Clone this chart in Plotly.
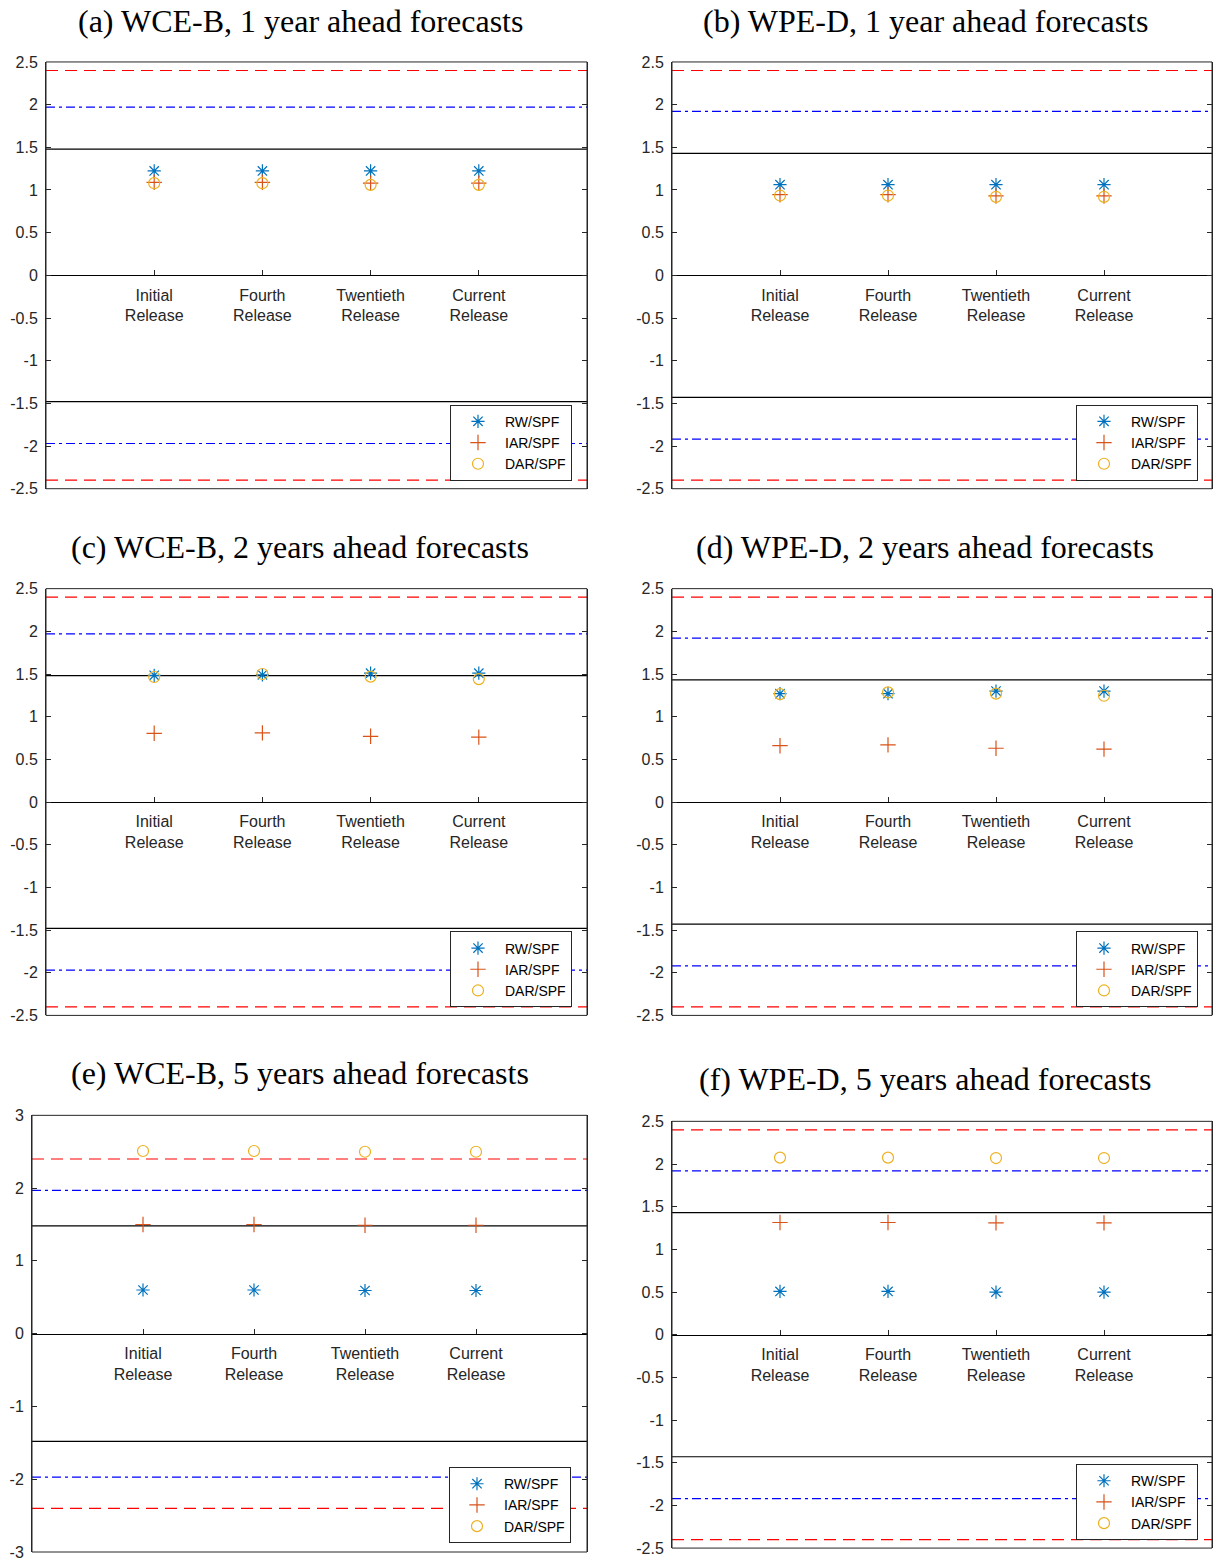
import plotly.graph_objects as go

W, H = 1213, 1561

# ---------------- data ----------------
categories = ["Initial<br>Release", "Fourth<br>Release", "Twentieth<br>Release", "Current<br>Release"]
cat_x = [1, 2, 3, 4]
series_names = ["RW/SPF", "IAR/SPF", "DAR/SPF"]

titles = [
    "(a) WCE-B, 1 year ahead forecasts",
    "(b) WPE-D, 1 year ahead forecasts",
    "(c) WCE-B, 2 years ahead forecasts",
    "(d) WPE-D, 2 years ahead forecasts",
    "(e) WCE-B, 5 years ahead forecasts",
    "(f) WPE-D, 5 years ahead forecasts",
]

a_rw = [1.223, 1.223, 1.223, 1.223]
a_iar = [1.09, 1.09, 1.08, 1.08]
a_dar = [1.08, 1.08, 1.06, 1.06]

b_rw = [1.062, 1.062, 1.062, 1.062]
b_iar = [0.945, 0.945, 0.93, 0.93]
b_dar = [0.935, 0.935, 0.92, 0.92]

c_rw = [1.485, 1.49, 1.51, 1.51]
c_iar = [0.805, 0.81, 0.77, 0.76]
c_dar = [1.465, 1.50, 1.47, 1.44]

d_rw = [1.27, 1.27, 1.30, 1.30]
d_iar = [0.66, 0.67, 0.63, 0.62]
d_dar = [1.265, 1.285, 1.27, 1.245]

e_rw = [0.60, 0.60, 0.593, 0.593]
e_iar = [1.50, 1.50, 1.49, 1.49]
e_dar = [2.51, 2.51, 2.50, 2.50]

f_rw = [0.507, 0.507, 0.50, 0.50]
f_iar = [1.315, 1.315, 1.31, 1.31]
f_dar = [2.075, 2.075, 2.07, 2.07]

# critical value lines (solid, dash-dot, dashed)
wce_crit = [1.48, 1.97, 2.40]
wpe_crit = [1.43, 1.92, 2.40]

yticks_25 = [-2.5, -2, -1.5, -1, -0.5, 0, 0.5, 1, 1.5, 2, 2.5]
yticklabels_25 = ["-2.5", "-2", "-1.5", "-1", "-0.5", "0", "0.5", "1", "1.5", "2", "2.5"]
yticks_3 = [-3, -2, -1, 0, 1, 2, 3]
yticklabels_3 = ["-3", "-2", "-1", "0", "1", "2", "3"]

panels = [
    dict(rw=a_rw, iar=a_iar, dar=a_dar, crit=wce_crit, yr=[-2.5, 2.5], yt=yticks_25, yl=yticklabels_25),
    dict(rw=b_rw, iar=b_iar, dar=b_dar, crit=wpe_crit, yr=[-2.5, 2.5], yt=yticks_25, yl=yticklabels_25),
    dict(rw=c_rw, iar=c_iar, dar=c_dar, crit=wce_crit, yr=[-2.5, 2.5], yt=yticks_25, yl=yticklabels_25),
    dict(rw=d_rw, iar=d_iar, dar=d_dar, crit=wpe_crit, yr=[-2.5, 2.5], yt=yticks_25, yl=yticklabels_25),
    dict(rw=e_rw, iar=e_iar, dar=e_dar, crit=wce_crit, yr=[-3, 3], yt=yticks_3, yl=yticklabels_3),
    dict(rw=f_rw, iar=f_iar, dar=f_dar, crit=wpe_crit, yr=[-2.5, 2.5], yt=yticks_25, yl=yticklabels_25),
]

# ---------------- layout (target pixels in the final picture) ----------------
boxes = [  # left, right, top, bottom
    (46, 587, 62, 489),
    (672, 1212, 62, 489),
    (46, 587, 589, 1016),
    (672, 1212, 589, 1016),
    (32, 587, 1116, 1555),
    (672, 1212, 1122, 1549),
]
legend_pos = [(572, 405), (1198, 405), (572, 932), (1198, 932), (571, 1468), (1198, 1465)]
title_pos = [(300, 21), (925, 21), (300, 547), (925, 547), (300, 1074), (925, 1080)]

# observed vertical mapping of the photographed page: shown = 8 + 0.9897 * page
def ypage(t):
    return min(max((t - 8) / 0.9897, 0), H)

AX = "#262626"
C_RW, C_IAR, C_DAR = "#0072BD", "#D95319", "#EDB120"
TICKFONT = dict(family="Liberation Sans, Arial, sans-serif", size=16, color=AX)

fig = go.Figure()
layout = dict(width=W, height=H, autosize=False, margin=dict(l=0, r=0, t=0, b=0),
              paper_bgcolor="white", plot_bgcolor="white", showlegend=True)
annotations = []
shapes = []

for i, (p, box) in enumerate(zip(panels, boxes)):
    n = "" if i == 0 else str(i + 1)
    xa, ya = "x" + n, "y" + n
    leg = "legend" + n
    l, r, t, b = box
    xd = [l / W, r / W]
    yd = [1 - ypage(b) / H, 1 - ypage(t) / H]
    y0, y1 = p["yr"]
    zero_pos = yd[0] + (0 - y0) / (y1 - y0) * (yd[1] - yd[0])

    # reference lines
    s, dd, ds = p["crit"]
    for val, dash, col in [(s, "solid", "black"), (dd, "9px,4px,3px,4px", "#0000FF"), (ds, "12px,7px", "#FF0000")]:
        for sign in (1, -1):
            fig.add_trace(go.Scatter(x=[0, 5], y=[sign * val, sign * val], mode="lines",
                                     line=dict(color=col, width=1.2, dash=dash),
                                     xaxis=xa, yaxis=ya, showlegend=False, hoverinfo="skip"))
    # markers
    for name, vals, sym, col in [(series_names[0], p["rw"], "asterisk-open", C_RW),
                                 (series_names[1], p["iar"], "cross-thin-open", C_IAR),
                                 (series_names[2], p["dar"], "circle-open", C_DAR)]:
        fig.add_trace(go.Scatter(x=cat_x, y=vals, mode="markers", name=name,
                                 marker=dict(symbol=sym, size=11, color=col, line=dict(width=1.2, color=col)),
                                 xaxis=xa, yaxis=ya, legend=leg))

    layout["xaxis" + n] = dict(domain=xd, range=[0, 5], anchor="free", position=zero_pos,
                               tickvals=cat_x, ticktext=categories, ticks="inside", ticklen=5,
                               tickcolor=AX, showline=True, linecolor="black", linewidth=1,
                               ticklabelstandoff=5,
                               showgrid=False, zeroline=False, tickfont=TICKFONT, fixedrange=True)
    layout["yaxis" + n] = dict(domain=yd, range=p["yr"], anchor=xa, tickvals=p["yt"], ticktext=p["yl"],
                               ticks="inside", ticklen=5, tickcolor=AX, showline=True, mirror="ticks",
                               linecolor=AX, linewidth=1, showgrid=False, zeroline=False,
                               ticklabelstandoff=4,
                               tickfont=TICKFONT, fixedrange=True)
    shapes.append(dict(type="rect", xref=xa + " domain", yref=ya + " domain", x0=0, x1=1, y0=0, y1=1,
                       line=dict(color=AX, width=1), fillcolor="rgba(0,0,0,0)", layer="above"))
    lx, ly = legend_pos[i]
    layout[leg] = dict(x=lx / W, y=1 - ypage(ly) / H, xanchor="right", yanchor="top", bgcolor="white",
                       bordercolor=AX, borderwidth=1,
                       font=dict(family="Liberation Sans, Arial, sans-serif", size=14, color="black"),
                       itemwidth=44, tracegroupgap=0)
    tx, ty = title_pos[i]
    annotations.append(dict(text=titles[i], x=tx / W, y=1 - ypage(ty) / H, xref="paper", yref="paper",
                            xanchor="center", yanchor="middle", showarrow=False,
                            font=dict(family="Liberation Serif, Times New Roman, serif", size=32, color="black")))

layout["annotations"] = annotations
layout["shapes"] = shapes
fig.update_layout(**layout)

fig.write_html(
    "out.html",
    config={"displayModeBar": False},
    post_script=("document.documentElement.style.margin='0';document.body.style.margin='0';"
                 "document.body.style.padding='0';"),
)
